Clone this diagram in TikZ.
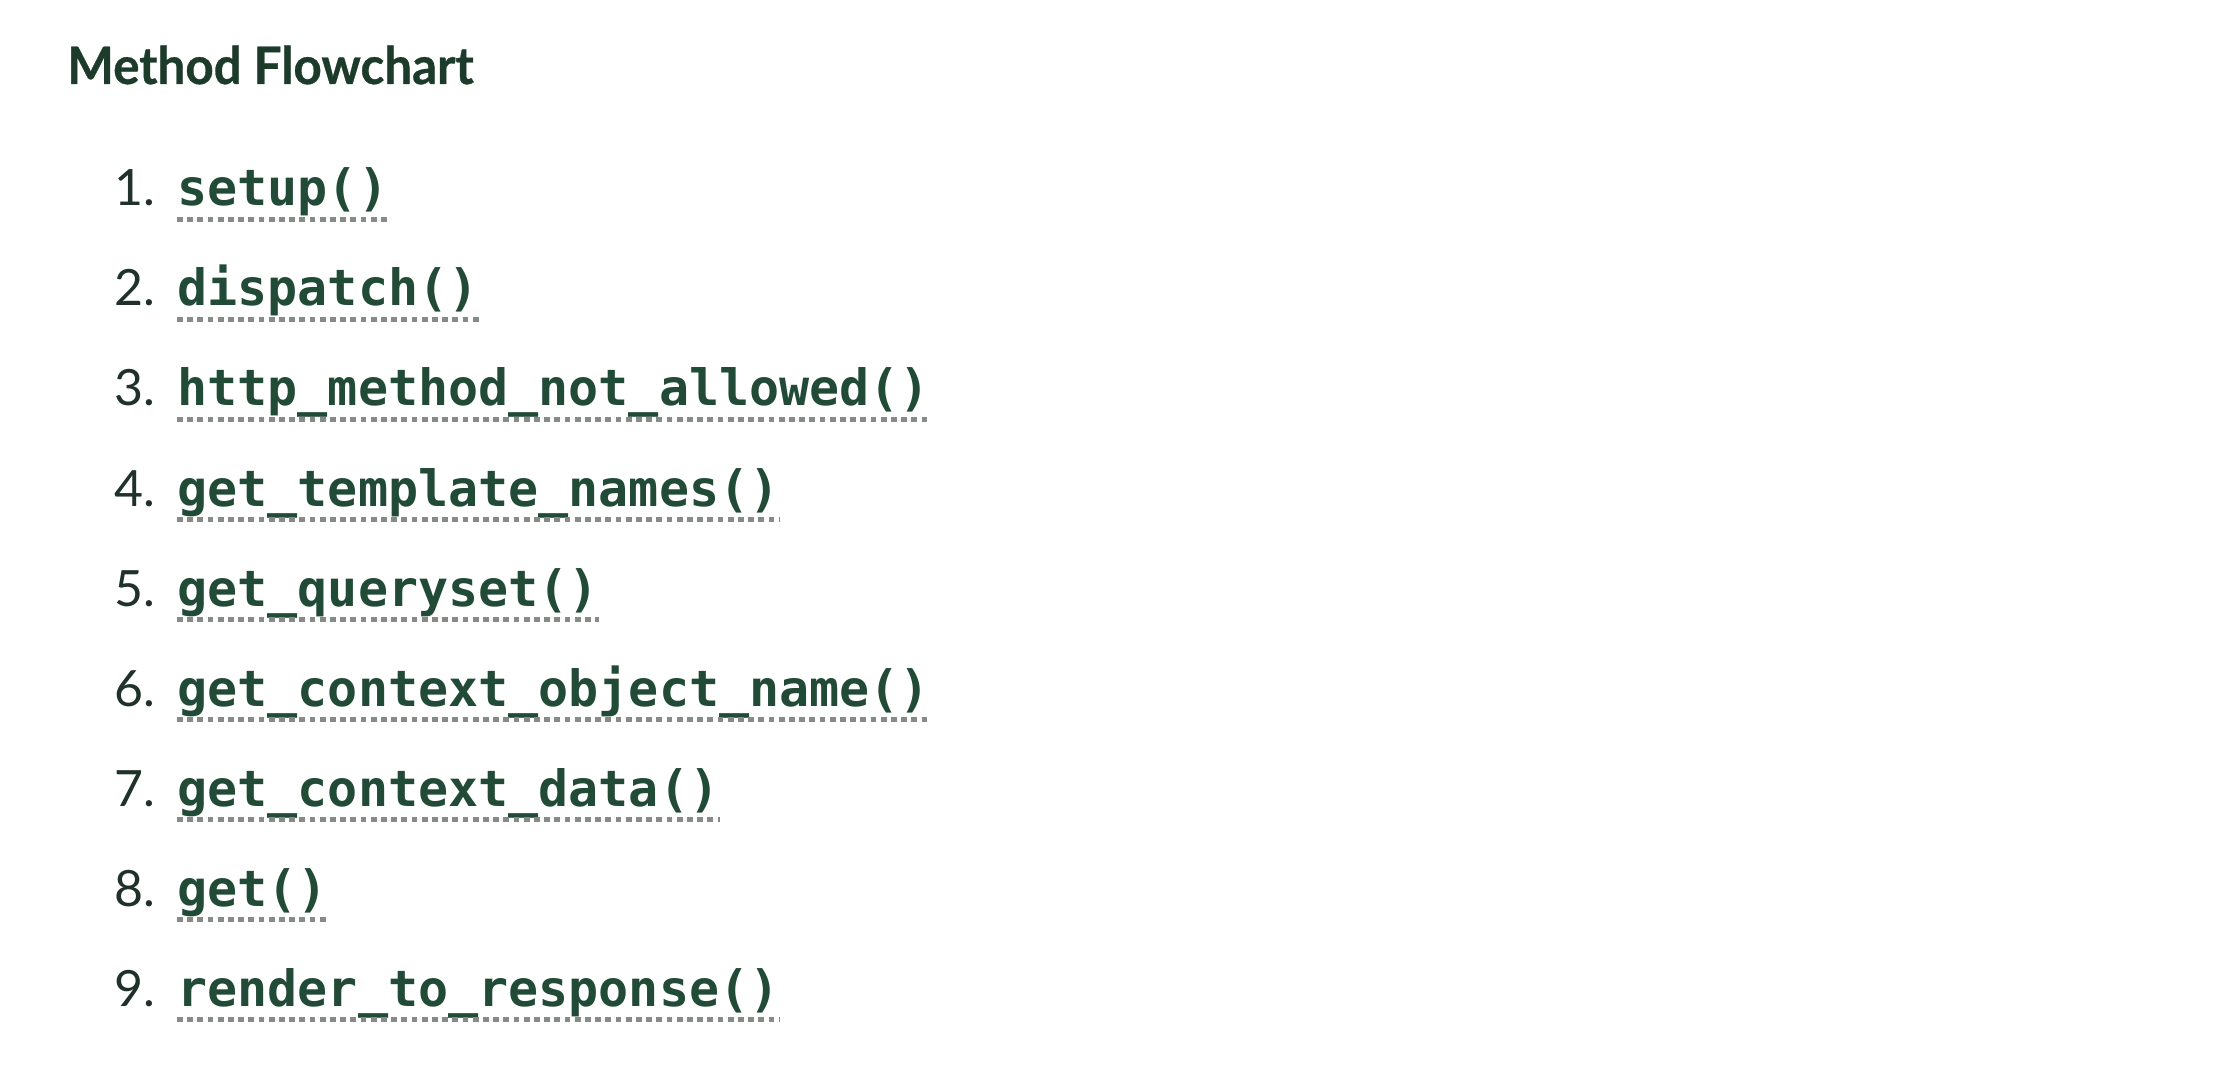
\documentclass[tikz,border=0pt]{standalone}
\usepackage{fontspec}
\setmainfont{Lato}
\newfontfamily\titlefont{Lato}[FakeStretch=0.955, BoldFeatures={FakeBold=0.6}]
\newfontfamily\codefont{DejaVu Sans Mono}
\definecolor{titlecol}{HTML}{1D3B2A}
\definecolor{codecol}{HTML}{224B37}
\definecolor{numcol}{HTML}{1F3128}
\definecolor{ulgray}{HTML}{878B88}
\tikzset{
  titletext/.style={anchor=base west, inner sep=0pt, text=titlecol, font=\fontsize{25.8}{30}\selectfont\titlefont\bfseries},
  numtext/.style={anchor=base west, inner sep=0pt, text=numcol, font=\fontsize{25}{30}\selectfont},
  codetext/.style={anchor=base west, inner sep=0pt, text=codecol, font=\fontsize{25}{30}\selectfont\codefont\bfseries},
  uline/.style={draw=ulgray, line width=2.4pt, dash pattern=on 2.9pt off 2.2pt}
}
\begin{document}
\begin{tikzpicture}[x=0.5pt,y=-0.5pt]
\useasboundingbox[fill=white] (0,0) rectangle (2226,1080);
\node[titletext] (title) at (67,84) {Method Flowchart};
\foreach \i/\t in {1/setup(),2/dispatch(),3/http\_method\_not\_allowed(),4/get\_template\_names(),5/get\_queryset(),6/get\_context\_object\_name(),7/get\_context\_data(),8/get(),9/render\_to\_response()}{
  \node[numtext] (n\i) at (114,{206+100*(\i-1)}) {\i.};
  \node[codetext] (c\i) at (177,{206+100*(\i-1)}) {\t};
  \draw[uline] ([yshift=-6.75pt]c\i.base west) -- ([yshift=-6.75pt]c\i.base east);
}
\end{tikzpicture}
\end{document}
